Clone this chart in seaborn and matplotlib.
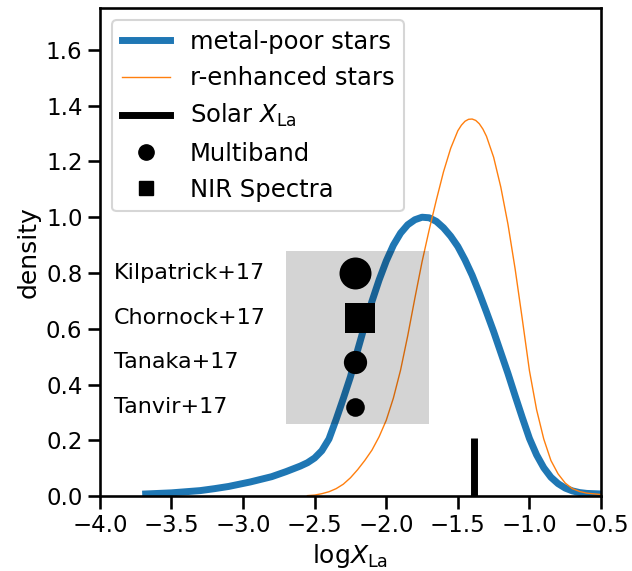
import numpy as np
import seaborn as sns
import matplotlib
matplotlib.use("Agg")
import matplotlib.pyplot as plt
from matplotlib.lines import Line2D
from matplotlib.patches import Rectangle

sns.set_context("talk")
plt.rcParams['font.family'] = ['DejaVu Sans']

# metal-poor stars density
mp_x = [-3.68, -3.5, -3.3, -3.2, -3.1, -2.95, -2.8, -2.7, -2.6, -2.55, -2.5, -2.45, -2.4,
        -2.35, -2.3, -2.25, -2.2, -2.15, -2.1, -2.05, -2.0, -1.95, -1.9, -1.85, -1.8,
        -1.75, -1.7, -1.65, -1.6, -1.55, -1.5, -1.45, -1.4, -1.35, -1.3, -1.25, -1.2,
        -1.15, -1.1, -1.05, -1.0, -0.95, -0.9, -0.85, -0.8, -0.75, -0.7, -0.65, -0.6,
        -0.5]
mp_y = [0.008, 0.012, 0.02, 0.027, 0.035, 0.051, 0.07, 0.088, 0.108, 0.12, 0.137, 0.163,
        0.205, 0.275, 0.35, 0.428, 0.523, 0.613, 0.698, 0.775, 0.843, 0.9, 0.943, 0.973,
        0.991, 1.0, 0.998, 0.985, 0.962, 0.932, 0.895, 0.847, 0.792, 0.728, 0.66, 0.59,
        0.515, 0.44, 0.36, 0.282, 0.207, 0.148, 0.102, 0.068, 0.045, 0.029, 0.019, 0.013,
        0.01, 0.008]

# r-enhanced stars density
re_x = [-2.55, -2.5, -2.45, -2.4, -2.35, -2.3, -2.25, -2.2, -2.15, -2.1, -2.05, -2.0,
        -1.95, -1.9, -1.85, -1.8, -1.75, -1.7, -1.65, -1.6, -1.55, -1.5, -1.475, -1.45,
        -1.425, -1.4, -1.375, -1.35, -1.325, -1.3, -1.25, -1.2, -1.15, -1.1, -1.05, -1.0,
        -0.95, -0.9, -0.85, -0.8, -0.75, -0.7, -0.65, -0.6, -0.5]
re_y = [0.002, 0.004, 0.009, 0.016, 0.027, 0.043, 0.066, 0.095, 0.128, 0.165, 0.213, 0.272,
        0.352, 0.452, 0.575, 0.71, 0.84, 0.955, 1.062, 1.163, 1.247, 1.31, 1.33, 1.344,
        1.351, 1.352, 1.347, 1.335, 1.316, 1.29, 1.215, 1.108, 0.975, 0.815, 0.635, 0.45,
        0.31, 0.205, 0.128, 0.08, 0.047, 0.027, 0.017, 0.011, 0.006]

# kilonova measurements
kn_names = ["Kilpatrick+17", "Chornock+17", "Tanaka+17", "Tanvir+17"]
kn_x = [-2.22, -2.18, -2.22, -2.22]
kn_y = [0.80, 0.64, 0.48, 0.32]
kn_marker = ["o", "s", "o", "o"]
kn_size = [530, 490, 280, 180]

# range box and solar value
box_x = [-2.7, -1.7]
box_y = [0.26, 0.88]
solar_x = -1.39
solar_h = 0.21

fig = plt.figure(figsize=(6.32, 5.71), dpi=100)
ax = fig.add_axes([0.158, 0.131, 0.793, 0.855])

sns.lineplot(x=mp_x, y=mp_y, ax=ax, color="#1f77b4", lw=5, zorder=2)
sns.lineplot(x=re_x, y=re_y, ax=ax, color="#ff7f0e", lw=1, zorder=2)
ax.vlines(solar_x, 0, solar_h, color="k", lw=5, zorder=2)

ax.add_patch(Rectangle((box_x[0], box_y[0]), box_x[1] - box_x[0], box_y[1] - box_y[0],
                       color="k", alpha=0.17, lw=0, zorder=3))

for name, x, y, m, s in zip(kn_names, kn_x, kn_y, kn_marker, kn_size):
    sns.scatterplot(x=[x], y=[y], ax=ax, marker=m, s=s, color="k", linewidth=0,
                    zorder=4, legend=False)
    ax.text(-3.9, y, name, va="center", ha="left", fontsize=16, color="k")

handles = [Line2D([], [], color="#1f77b4", lw=5),
           Line2D([], [], color="#ff7f0e", lw=1),
           Line2D([], [], color="k", lw=5),
           Line2D([], [], color="k", marker="o", ls="", ms=11),
           Line2D([], [], color="k", marker="s", ls="", ms=10)]
labels = ["metal-poor stars", "r-enhanced stars", r"Solar $X_{\rm La}$",
          "Multiband", "NIR Spectra"]
ax.legend(handles, labels, loc="upper left", fontsize=17.5)

ax.set_xlim(-4, -0.5)
ax.set_ylim(0, 1.75)
ax.set_xticks(np.arange(-4, -0.49, 0.5))
ax.set_yticks(np.arange(0, 1.61, 0.2))
ax.set_xlabel(r"log$X_{\rm La}$")
ax.set_ylabel("density")

fig.savefig("out.png", dpi=100)
